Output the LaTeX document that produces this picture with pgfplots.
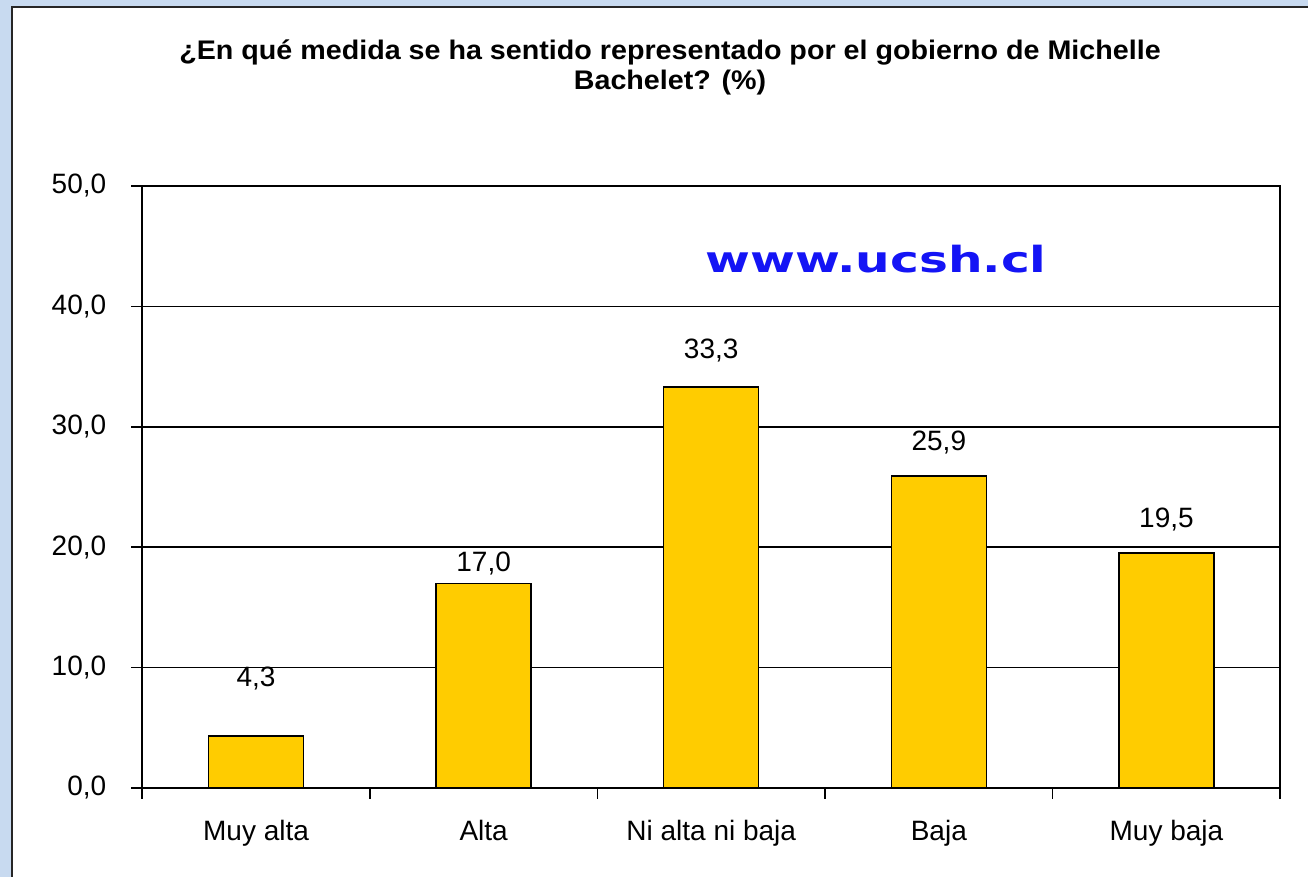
\documentclass[border=0pt]{standalone}
\usepackage{pgfplots}
\pgfplotsset{compat=1.18}
\usepackage{fontspec}
\setmainfont{Liberation Sans}
\newfontfamily\wmfont{DejaVu Sans}
\definecolor{bargold}{HTML}{FFCC00}
\definecolor{framebg}{RGB}{200,218,240}
\definecolor{wmblue}{RGB}{20,20,245}

\begin{document}
\begin{tikzpicture}[x=1pt,y=1pt]
\useasboundingbox (0,0) rectangle (654,438.5);
% panel background and frame
\fill[framebg] (0,0) rectangle (654,438.5);
\fill[white] (6,0) rectangle (654,435);
\draw[line width=1.2pt, black!85] (6,0) -- (6,435) -- (654,435);

% title
\node[anchor=base, inner sep=0pt, font=\bfseries\fontsize{12.8}{15}\selectfont] at (335,408.5)
  {\scalebox{1.12}[1.05]{¿En qué medida se ha sentido representado por el gobierno de Michelle}};
\node[anchor=base, inner sep=0pt, font=\bfseries\fontsize{12.8}{15}\selectfont] at (335,393.5)
  {\scalebox{1.12}[1.05]{Bachelet? (\%)}};

\begin{axis}[
    at={(62.5,74)}, anchor=south west,
    width=569pt, height=301pt, scale only axis,
    xmin=-0.5, xmax=4.5, ymin=0, ymax=50,
    axis line style={black, line width=0.8pt},
    ymajorgrids, grid style={black, line width=0.8pt},
    ytick={0,10,...,50},
    yticklabels={{0,0},{10,0},{20,0},{30,0},{40,0},{50,0}},
    xtick={-0.5,0.5,1.5,2.5,3.5,4.5}, xticklabels={},
    extra x ticks={0,1,2,3,4},
    extra x tick labels={Muy alta, Alta, Ni alta ni baja, Baja, Muy baja},
    extra x tick style={major tick length=0pt, grid=none},
    tick align=outside, tick pos=left, major tick length=5.5pt,
    tick style={black, line width=0.8pt},
    ticklabel style={font=\fontsize{14}{16}\selectfont},
    xticklabel style={yshift=-12.5pt},
    yticklabel style={xshift=-9pt},
]
\addplot[ybar, bar width=47.5pt, fill=bargold, draw=black, line width=0.7pt]
  coordinates {(0,4.3) (1,17.0) (2,33.3) (3,25.9) (4,19.5)};

% data labels
\addplot[draw=none, mark=none, nodes near coords, point meta=explicit symbolic,
  nodes near coords style={anchor=center, inner sep=0pt, font=\fontsize{14}{16}\selectfont}]
  table[meta=lab, row sep=\\] {
  x y lab \\
  0 9.05 4,3 \\
  1 18.6 17,0 \\
  2 36.3 33,3 \\
  3 28.7 25,9 \\
  4 22.3 19,5 \\
  };
\end{axis}

% watermark
\node[anchor=base, inner sep=0pt, text=wmblue, font=\wmfont\bfseries\fontsize{18}{20}\selectfont]
  at (438,302) {\scalebox{1.35}[1]{www.ucsh.cl}};
\end{tikzpicture}
\end{document}
